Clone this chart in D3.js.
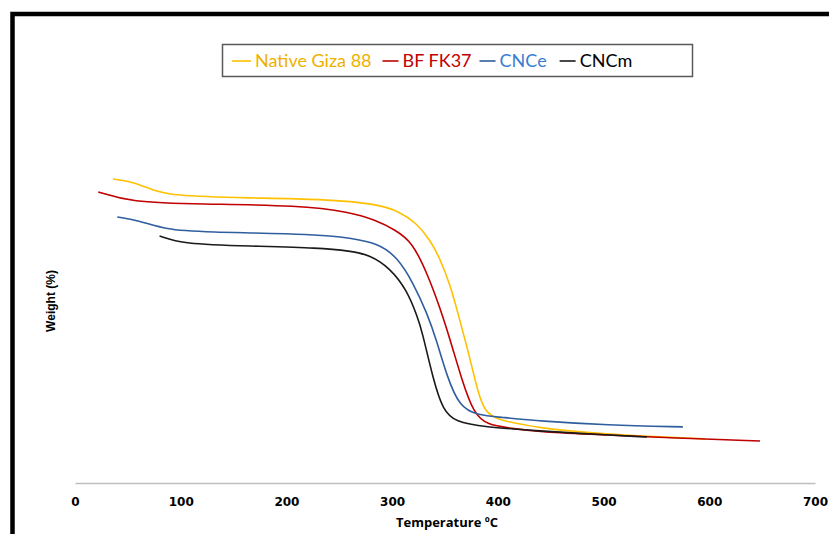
<!DOCTYPE html>
<html>
<head>
<meta charset="utf-8">
<script src="https://cdn.jsdelivr.net/npm/d3@7"></script>
<style>
  html, body { margin: 0; padding: 0; background: #fff; }
  svg { display: block; }
</style>
</head>
<body>
<svg id="chart" width="829" height="534"></svg>
<script>
// Thermogravimetric curves: weight (%) versus temperature (°C)
const seriesNames = ["Native Giza 88", "BF FK37", "CNCe", "CNCm"];
const lineColors = ["#FFC000", "#C00000", "#2F5E9E", "#1a1a1a"];
const labelColors = ["#F0B000", "#C00000", "#3B7DD0", "#000000"];

const nativeT = [36, 55, 71, 90, 166, 232, 289, 307, 322, 336, 345, 355, 364, 374, 381, 388, 399, 440, 487, 551, 596];
const nativeW = [99.0, 98.0, 95.8, 93.5, 92.8, 92.5, 90.8, 88.2, 85.0, 79.1, 73.2, 64.4, 52.9, 39.9, 29.4, 22.9, 20.3, 17.6, 16.0, 14.7, 14.1];

const bfT = [22, 52, 118, 213, 260, 284, 303, 319, 333, 345, 355, 366, 377, 390, 412, 440, 503, 566, 648];
const bfW = [94.8, 91.5, 90.8, 90.4, 88.2, 85.6, 82.4, 78.4, 68.3, 57.2, 46.4, 33.3, 22.5, 18.6, 17.6, 16.3, 15.4, 14.4, 13.4];

const cnceT = [40, 59, 87, 118, 232, 260, 286, 305, 320, 333, 342, 352, 364, 380, 402, 440, 503, 575];
const cnceW = [86.6, 85.6, 82.4, 81.7, 81.0, 79.7, 78.1, 73.5, 65.0, 55.2, 46.4, 34.3, 24.5, 21.9, 21.2, 19.9, 18.6, 18.0];

const cncmT = [80, 101, 166, 232, 260, 279, 298, 314, 324, 328, 339, 348, 360, 386, 440, 471, 541];
const cncmW = [80.4, 77.8, 77.1, 76.5, 75.5, 74.2, 69.9, 62.7, 53.9, 49.7, 33.3, 23.5, 19.6, 18.0, 16.7, 16.0, 14.7];

const xTicks = [0, 100, 200, 300, 400, 500, 600, 700];
const xTitle = "Temperature ºC";
const yTitle = "Weight (%)";

const seriesData = [
  nativeT.map((t, i) => ({ t, w: nativeW[i] })),
  bfT.map((t, i) => ({ t, w: bfW[i] })),
  cnceT.map((t, i) => ({ t, w: cnceW[i] })),
  cncmT.map((t, i) => ({ t, w: cncmW[i] }))
];

const svg = d3.select("#chart");

const x = d3.scaleLinear().domain([0, 700]).range([75, 815]);
const y = d3.scaleLinear().domain([0, 100]).range([482, 176]);

// outer frame (top and left edges)
svg.append("path")
  .attr("d", "M12.5,534 V14 H829")
  .attr("fill", "none")
  .attr("stroke", "#000")
  .attr("stroke-width", 4.5);

// x axis
const xAxis = d3.axisBottom(x).tickValues(xTicks).tickSize(0).tickPadding(14);
const gx = svg.append("g").attr("transform", `translate(0,${y(0) + 1})`).call(xAxis);
gx.select(".domain").attr("stroke", "#BFBFBF").attr("stroke-width", 1.5);
gx.selectAll(".tick text")
  .attr("font-family", "'DejaVu Sans', Verdana, sans-serif")
  .attr("font-weight", "bold")
  .attr("font-size", 12)
  .attr("fill", "#000");

svg.append("text")
  .attr("x", 447).attr("y", 527)
  .attr("text-anchor", "middle")
  .attr("font-family", "'Open Sans', sans-serif")
  .attr("font-weight", "bold")
  .attr("font-size", 13)
  .text(xTitle);

svg.append("text")
  .attr("transform", "translate(55,301) rotate(-90)")
  .attr("text-anchor", "middle")
  .attr("font-family", "'Liberation Sans', Arial, sans-serif")
  .attr("font-weight", "bold")
  .attr("font-size", 12)
  .text(yTitle);

// curves
const line = d3.line()
  .x(d => x(d.t))
  .y(d => y(d.w))
  .curve(d3.curveBasis);

svg.append("g").selectAll("path")
  .data(seriesData)
  .join("path")
  .attr("d", line)
  .attr("fill", "none")
  .attr("stroke", (d, i) => lineColors[i])
  .attr("stroke-width", 1.6);

// legend
const legend = svg.append("g");
legend.append("rect")
  .attr("x", 222.5).attr("y", 44.5)
  .attr("width", 470).attr("height", 32)
  .attr("fill", "#fff")
  .attr("stroke", "#595959")
  .attr("stroke-width", 1.5);

let cx = 232;
const gaps = [11, 8, 13];
seriesNames.forEach((name, i) => {
  const dashLen = i === 0 ? 19 : 16;
  legend.append("line")
    .attr("x1", cx).attr("x2", cx + dashLen)
    .attr("y1", 61).attr("y2", 61)
    .attr("stroke", lineColors[i])
    .attr("stroke-width", 1.6);
  const txt = legend.append("text")
    .attr("x", cx + dashLen + 4).attr("y", 67)
    .attr("font-family", "Lato, 'Open Sans', sans-serif")
    .attr("font-size", 18)
    .attr("fill", labelColors[i])
    .text(name);
  cx = cx + dashLen + 4 + txt.node().getComputedTextLength() + (gaps[i] || 0);
});
</script>
</body>
</html>
